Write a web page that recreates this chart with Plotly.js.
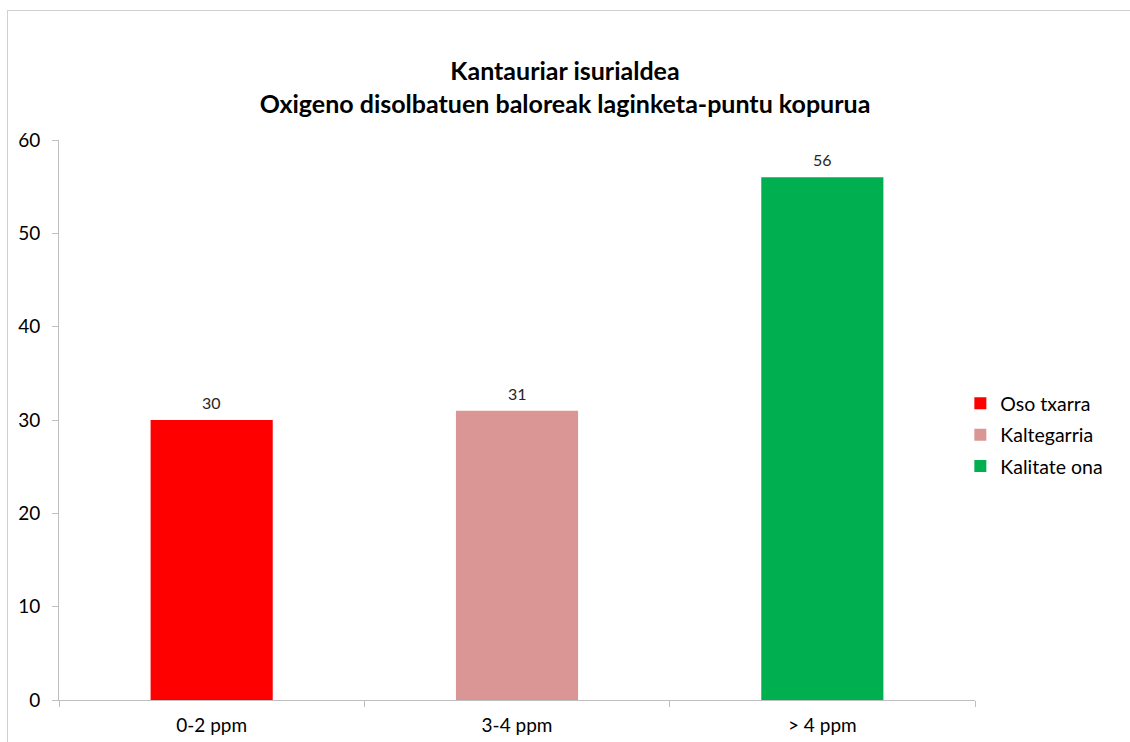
<!DOCTYPE html>
<html>
<head>
<meta charset="utf-8">
<script src="https://cdn.plot.ly/plotly-3.0.1.min.js"></script>
<style>
  html, body { margin:0; padding:0; background:#fff; }
  #wrap { position:relative; width:1130px; height:742px; overflow:hidden; }
  #chart { position:absolute; left:0; top:0; width:1130px; height:742px; }
  #frame { position:absolute; left:7px; top:10px; width:1200px; height:800px;
           border-left:1px solid #d0d0d0; border-top:1px solid #d0d0d0; pointer-events:none; }
</style>
</head>
<body>
<div id="wrap">
  <div id="chart"></div>
  <div id="frame"></div>
</div>
<script>
const categories = ["0-2 ppm", "3-4 ppm", "> 4 ppm"];
const seriesNames = ["Oso txarra", "Kaltegarria", "Kalitate ona"];
const values = [30, 31, 56];
const colors = ["#FF0000", "#D99694", "#00B050"];
const yTicks = [0, 10, 20, 30, 40, 50, 60];
const titleText = "Kantauriar isurialdea<br>Oxigeno disolbatuen baloreak laginketa-puntu kopurua";

const FONT = "Lato, 'Open Sans', sans-serif";

const traces = seriesNames.map((name, i) => ({
  type: "bar",
  name: name,
  x: [categories[i]],
  y: [values[i]],
  marker: { color: colors[i], line: { width: 0 } },
  width: 0.4,
  legendgroup: "g" + i,
  hoverinfo: "x+y+name"
}));

const annotations = categories.map((c, i) => ({
  x: c, y: values[i], xref: "x", yref: "y",
  text: String(values[i]),
  showarrow: false, yanchor: "bottom", yshift: 6,
  font: { family: FONT, size: 16, color: "#262626" }
}));

const layout = {
  width: 1130, height: 742,
  paper_bgcolor: "#ffffff", plot_bgcolor: "#ffffff",
  margin: { l: 59, r: 155, t: 140, b: 42, pad: 0 },
  barmode: "overlay",
  title: {
    text: titleText,
    x: 0.5, xref: "container", xanchor: "center",
    y: 1 - 80 / 742, yref: "container", yanchor: "middle",
    font: { family: FONT, size: 25, color: "#000000", weight: "bold" }
  },
  xaxis: {
    type: "category",
    categoryorder: "array", categoryarray: categories,
    showline: true, linecolor: "#BFBFBF", linewidth: 1,
    ticks: "outside", ticklen: 6, tickcolor: "#BFBFBF", tickwidth: 1,
    tickson: "boundaries",
    showgrid: false, zeroline: false,
    tickfont: { family: FONT, size: 19, color: "#000000" },
    ticklabelstandoff: 8,
    fixedrange: true
  },
  yaxis: {
    range: [0, 60],
    tickvals: yTicks,
    ticktext: yTicks.map(String),
    showline: true, linecolor: "#BFBFBF", linewidth: 1,
    ticks: "outside", ticklen: 6, tickcolor: "#BFBFBF", tickwidth: 1,
    showgrid: false, zeroline: false,
    tickfont: { family: FONT, size: 19, color: "#000000" },
    ticklabelstandoff: 8,
    fixedrange: true
  },
  showlegend: true,
  legend: {
    x: 0.984, xanchor: "left",
    y: 0.473, yanchor: "middle",
    font: { family: FONT, size: 19.5, color: "#000000" },
    bgcolor: "rgba(0,0,0,0)",
    tracegroupgap: 3,
    itemwidth: 30,
    traceorder: "grouped"
  },
  annotations: annotations
};

Plotly.newPlot("chart", traces, layout, { displayModeBar: false, staticPlot: true });
</script>
</body>
</html>
